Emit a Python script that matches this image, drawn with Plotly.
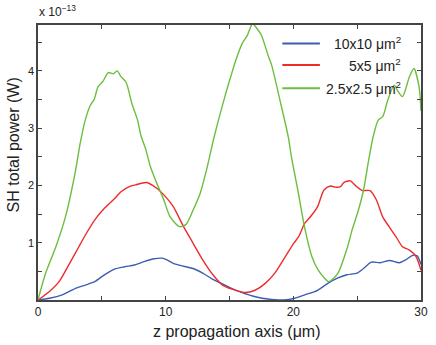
import plotly.graph_objects as go

# z positions (um) and SH power (x 1e-13 W)
z_10 = [0, 0.9, 1.9, 2.9, 3.7, 4.45, 5.2, 6.0, 6.8, 7.55, 8.3, 9.1, 9.7, 10.1, 10.6,
        11.4, 12.15, 12.9, 13.7, 14.45, 15.2, 16.0, 16.8, 17.55, 18.3, 19.3, 20.1,
        20.9, 21.9, 22.7, 23.45, 24.2, 25.0, 25.5, 26.1, 26.8, 27.55, 28.3, 28.8,
        29.35, 29.7, 30]
p_10 = [0, 0.03, 0.09, 0.20, 0.26, 0.32, 0.44, 0.54, 0.58, 0.61, 0.67, 0.72, 0.73,
        0.70, 0.64, 0.59, 0.55, 0.47, 0.36, 0.28, 0.20, 0.13, 0.07, 0.03, 0.01, 0.0,
        0.03, 0.09, 0.17, 0.29, 0.38, 0.44, 0.47, 0.55, 0.66, 0.65, 0.69, 0.65, 0.70,
        0.78, 0.77, 0.62]

z_5 = [0, 0.9, 1.65, 2.4, 3.2, 3.7, 4.45, 5.2, 6.0, 6.5, 7.15, 7.65, 8.5, 9.3, 10.0,
       10.6, 11.4, 12.15, 12.9, 13.7, 14.45, 15.2, 16.25, 17.0, 17.8, 18.55, 19.3,
       20.0, 20.4, 20.9, 21.4, 21.9, 22.4, 22.9, 23.3, 23.7, 23.95, 24.45, 24.95,
       25.4, 26.0, 26.5, 27.0, 27.5, 28.05, 28.55, 29.1, 29.6, 30]
p_5 = [0, 0.15, 0.32, 0.61, 0.93, 1.13, 1.40, 1.60, 1.77, 1.89, 1.98, 2.01, 2.05,
       1.95, 1.80, 1.63, 1.28, 0.99, 0.70, 0.44, 0.26, 0.19, 0.13, 0.17, 0.29, 0.47,
       0.73, 0.98, 1.10, 1.34, 1.47, 1.63, 1.92, 1.99, 1.97, 1.98, 2.05, 2.08, 1.98,
       1.91, 1.91, 1.75, 1.45, 1.28, 1.10, 0.93, 0.87, 0.76, 0.52]

z_25 = [0, 0.6, 1.4, 2.15, 2.9, 3.3, 3.7, 4.1, 4.4, 4.7, 5.1, 5.5, 5.9, 6.2, 6.5,
        6.9, 7.35, 7.8, 8.05, 8.45, 8.8, 9.3, 9.85, 10.35, 11.1, 11.6, 12.15, 12.7,
        13.2, 13.8, 14.6, 15.1, 15.5, 16.0, 16.4, 16.8, 17.15, 17.5, 18.05, 18.3,
        18.95, 19.6, 19.85, 20.35, 20.9, 21.45, 21.95, 22.45, 22.75, 23.0, 23.5,
        24.25, 24.6, 25.1, 25.5, 25.9, 26.25, 26.65, 27.0, 27.4, 27.9, 28.2, 28.55,
        29.1, 29.45, 29.85, 30]
p_25 = [0, 0.47, 0.93, 1.45, 2.21, 2.73, 3.14, 3.40, 3.50, 3.72, 3.82, 3.97, 3.95,
        4.0, 3.90, 3.80, 3.43, 3.14, 2.88, 2.62, 2.33, 2.04, 1.75, 1.45, 1.28, 1.32,
        1.57, 1.86, 2.27, 2.85, 3.52, 3.90, 4.19, 4.48, 4.62, 4.82, 4.74, 4.62, 4.25,
        4.10, 3.49, 2.85, 2.50, 1.92, 1.25, 0.76, 0.52, 0.38, 0.32, 0.35, 0.47, 0.93,
        1.22, 1.57, 1.92, 2.44, 2.85, 3.14, 3.20, 3.49, 3.75, 3.64, 3.55, 3.90, 4.04,
        3.72, 3.3]

names = ['10x10 \u03bcm<sup>2</sup>', '5x5 \u03bcm<sup>2</sup>', '2.5x2.5 \u03bcm<sup>2</sup>']
colors = ['#3d5db3', '#ee2b2b', '#6dbd3f']

x_ticks = [0, 5, 10, 15, 20, 25, 30]
x_labels = ['0', '', '10', '', '20', '', '30']
y_ticks = [0, 0.5, 1, 1.5, 2, 2.5, 3, 3.5, 4, 4.5]
y_labels = ['', '', '1', '', '2', '', '3', '', '4', '']

font = 'Liberation Sans, Arial, sans-serif'
axis_col = '#444444'

fig = go.Figure()
for zs, ps, col in [(z_10, p_10, colors[0]), (z_5, p_5, colors[1]), (z_25, p_25, colors[2])]:
    fig.add_trace(go.Scatter(x=zs, y=ps, mode='lines', showlegend=False,
                             line=dict(color=col, width=1.4, shape='spline', smoothing=0.7)))

# legend drawn by hand so the text can sit right-aligned like the original
leg_y = [0.933, 0.855, 0.770]
for name, col, yy in zip(names, colors, leg_y):
    fig.add_shape(type='line', xref='paper', yref='paper', x0=0.638, x1=0.736, y0=yy, y1=yy,
                  line=dict(color=col, width=2))
    fig.add_annotation(xref='paper', yref='paper', x=0.954, y=yy, xanchor='right', yanchor='middle',
                       text=name, showarrow=False, font=dict(size=14, color='#222', family=font))

fig.add_annotation(xref='paper', yref='paper', x=-0.003, y=1.015, xanchor='left', yanchor='bottom',
                   text='x 10<sup>\u221213</sup>', showarrow=False,
                   font=dict(size=12, color='#222', family=font))
fig.add_annotation(xref='paper', yref='paper', x=0.52, y=-0.075, xanchor='center', yanchor='top',
                   text='z propagation axis (\u03bcm)', showarrow=False,
                   font=dict(size=16, color='#222', family=font))
fig.add_annotation(xref='paper', yref='paper', x=-0.064, y=0.564, xanchor='center', yanchor='middle',
                   text='SH total power (W)', textangle=-90, showarrow=False,
                   font=dict(size=16, color='#222', family=font))

fig.update_xaxes(range=[0, 30], tickvals=x_ticks, ticktext=x_labels, ticks='inside', ticklen=4,
                 tickcolor=axis_col, showline=True, linecolor=axis_col, linewidth=1.5, mirror='ticks',
                 showgrid=False, zeroline=False, tickfont=dict(size=12, color='#222', family=font))
fig.update_yaxes(range=[0, 4.8], tickvals=y_ticks, ticktext=y_labels, ticks='inside', ticklen=4,
                 tickcolor=axis_col, showline=True, linecolor=axis_col, linewidth=1.5, mirror='ticks',
                 showgrid=False, zeroline=False, tickfont=dict(size=11, color='#222', family=font))

fig.update_layout(width=436, height=345, margin=dict(l=38, r=8, t=25, b=45),
                  plot_bgcolor='white', paper_bgcolor='white', font=dict(family=font))

# the page body has a default 8px margin; remove it so the figure fills the window
fig.write_html('out.html', config={'displayModeBar': False},
               post_script="document.body.style.margin='0';")
